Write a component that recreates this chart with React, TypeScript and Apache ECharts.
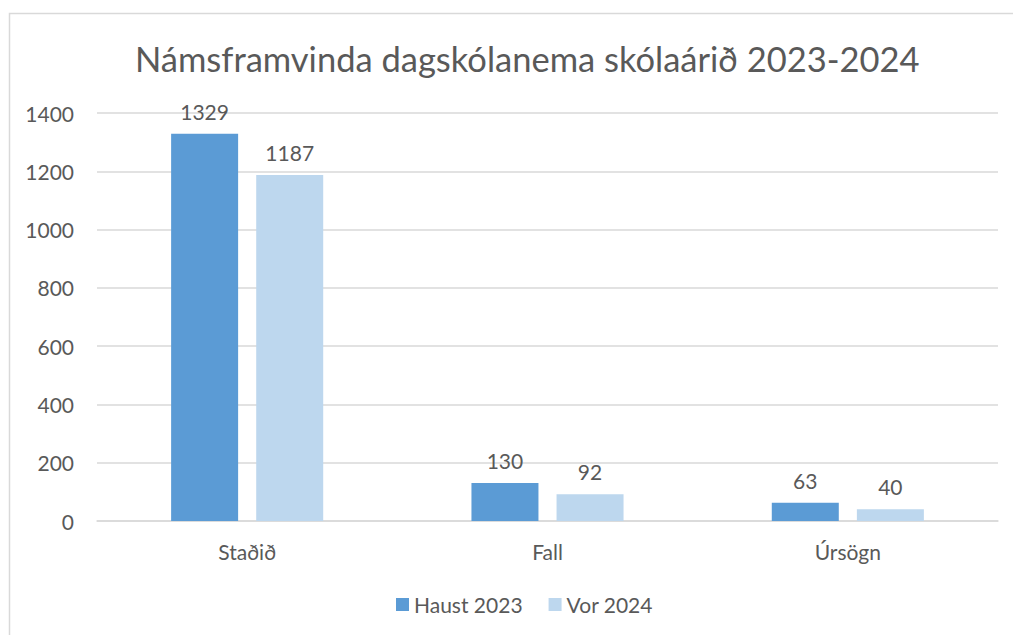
import React, { useEffect, useRef } from "react";
import * as echarts from "echarts";

const categories = ["Staðið", "Fall", "Úrsögn"];
const haust2023 = [1329, 130, 63];
const vor2024 = [1187, 92, 40];
const seriesNames = ["Haust 2023", "Vor 2024"];
const titleText = "Námsframvinda dagskólanema skólaárið 2023-2024";

const FONT = "Lato, 'Noto Sans', sans-serif";
const TXT = "#595959";

export default function App() {
  const ref = useRef<HTMLDivElement>(null);
  useEffect(() => {
    document.body.style.margin = "0";
    const chart = echarts.init(ref.current!, null, { renderer: "svg" });
    chart.setOption({
      animation: false,
      backgroundColor: "#ffffff",
      textStyle: { fontFamily: FONT, color: TXT },
      title: {
        text: titleText,
        left: 130,
        top: 36,
        textStyle: { fontFamily: FONT, color: TXT, fontSize: 34.5, fontWeight: "normal" },
      },
      graphic: [
        {
          type: "rect",
          shape: { x: 9.5, y: 13.5, width: 1012, height: 640 },
          style: { fill: "none", stroke: "#d9d9d9", lineWidth: 1.5 },
          silent: true,
        },
      ],
      legend: {
        bottom: 15,
        left: 391,
        itemWidth: 13,
        itemHeight: 13,
        itemGap: 26,
        icon: "rect",
        textStyle: { fontFamily: FONT, color: TXT, fontSize: 21 },
        data: seriesNames,
      },
      grid: { left: 97, right: 15, top: 113, bottom: 114 },
      xAxis: {
        type: "category",
        data: categories,
        axisLine: { lineStyle: { color: "#d9d9d9", width: 1.5 } },
        axisTick: { show: false },
        axisLabel: { color: TXT, fontSize: 21, fontFamily: FONT, margin: 20 },
      },
      yAxis: {
        type: "value",
        min: 0,
        max: 1400,
        interval: 200,
        axisLine: { show: false },
        axisTick: { show: false },
        splitLine: { lineStyle: { color: "#d9d9d9", width: 1.5 } },
        axisLabel: {
          color: TXT,
          fontSize: 21,
          fontFamily: FONT,
          margin: 23,
          formatter: (v: number) => String(v),
        },
      },
      series: [
        {
          name: seriesNames[0],
          type: "bar",
          data: haust2023,
          barWidth: 67,
          barGap: "27%",
          itemStyle: { color: "#5B9BD5" },
          label: { show: true, position: "top", color: TXT, fontSize: 21, fontFamily: FONT, distance: 12 },
        },
        {
          name: seriesNames[1],
          type: "bar",
          data: vor2024,
          barWidth: 67,
          barGap: "27%",
          itemStyle: { color: "#BDD7EE" },
          label: { show: true, position: "top", color: TXT, fontSize: 21, fontFamily: FONT, distance: 12 },
        },
      ],
    });
    return () => chart.dispose();
  }, []);
  return <div ref={ref} style={{ width: 1013, height: 635 }} />;
}
